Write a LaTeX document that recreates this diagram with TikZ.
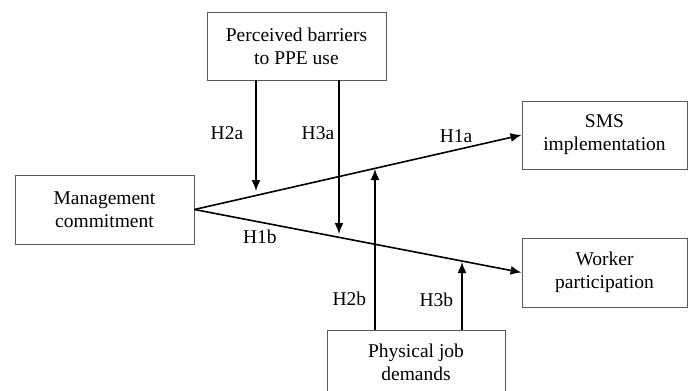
\documentclass[tikz,border=0pt]{standalone}
\usepackage{fontspec}
\setmainfont{Liberation Serif}
\usetikzlibrary{arrows.meta,calc}

\tikzset{
  box/.style={draw=gray!70!black, line width=0.9pt, align=center, inner sep=0pt, font=\fontsize{19.5}{23}\selectfont},
  hlabel/.style={font=\fontsize{19.5}{23}\selectfont, inner sep=2pt}
}

\begin{document}
\begin{tikzpicture}[x=1pt,y=-1pt,->,>={Latex[length=11pt,width=9pt]},line width=1.6pt]
	\useasboundingbox (0,0) rectangle (689,391);
	% boxes
	\node[box, minimum width=179, minimum height=68] (pb) at (296.5,46) {Perceived barriers\\to PPE use};
	\node[box, minimum width=179, minimum height=69] (mc) at (104.5,209.5) {Management\\commitment};
	\node[box, minimum width=165, minimum height=68] (sms) at (604.5,135) {SMS\\implementation};
	\node[box, minimum width=165, minimum height=69] (wp) at (604.5,272.5) {Worker\\participation};
	\node[box, minimum width=178, minimum height=64] (pj) at (416,362) {Physical job\\demands};
	
	% ends of the moderator arrows
	\coordinate (t2a) at (256,191);
	\coordinate (t3a) at (339,234);
	\coordinate (t2b) at (375,169);
	\coordinate (t3b) at (462,262);
	
	\path[->] (mc.east) edge node[hlabel, pos=0.8, above=4pt] {H1a} (sms.west);
	\path[->] (mc.east) edge node[hlabel, pos=0.2, below=5pt] {H1b} (wp.west);
	
	\path[->] (pb.south -| t2a) edge node[hlabel, pos=0.48, left=10pt] {H2a} (t2a);
	\path[->] (pb.south -| t3a) edge node[hlabel, pos=0.34, left=2pt] {H3a} (t3a);
	\path[->] (pj.north -| t2b) edge node[hlabel, pos=0.19, left=6pt] {H2b} (t2b);
	\path[->] (pj.north -| t3b) edge node[hlabel, pos=0.44, left=6pt] {H3b} (t3b);
\end{tikzpicture}
\end{document}
